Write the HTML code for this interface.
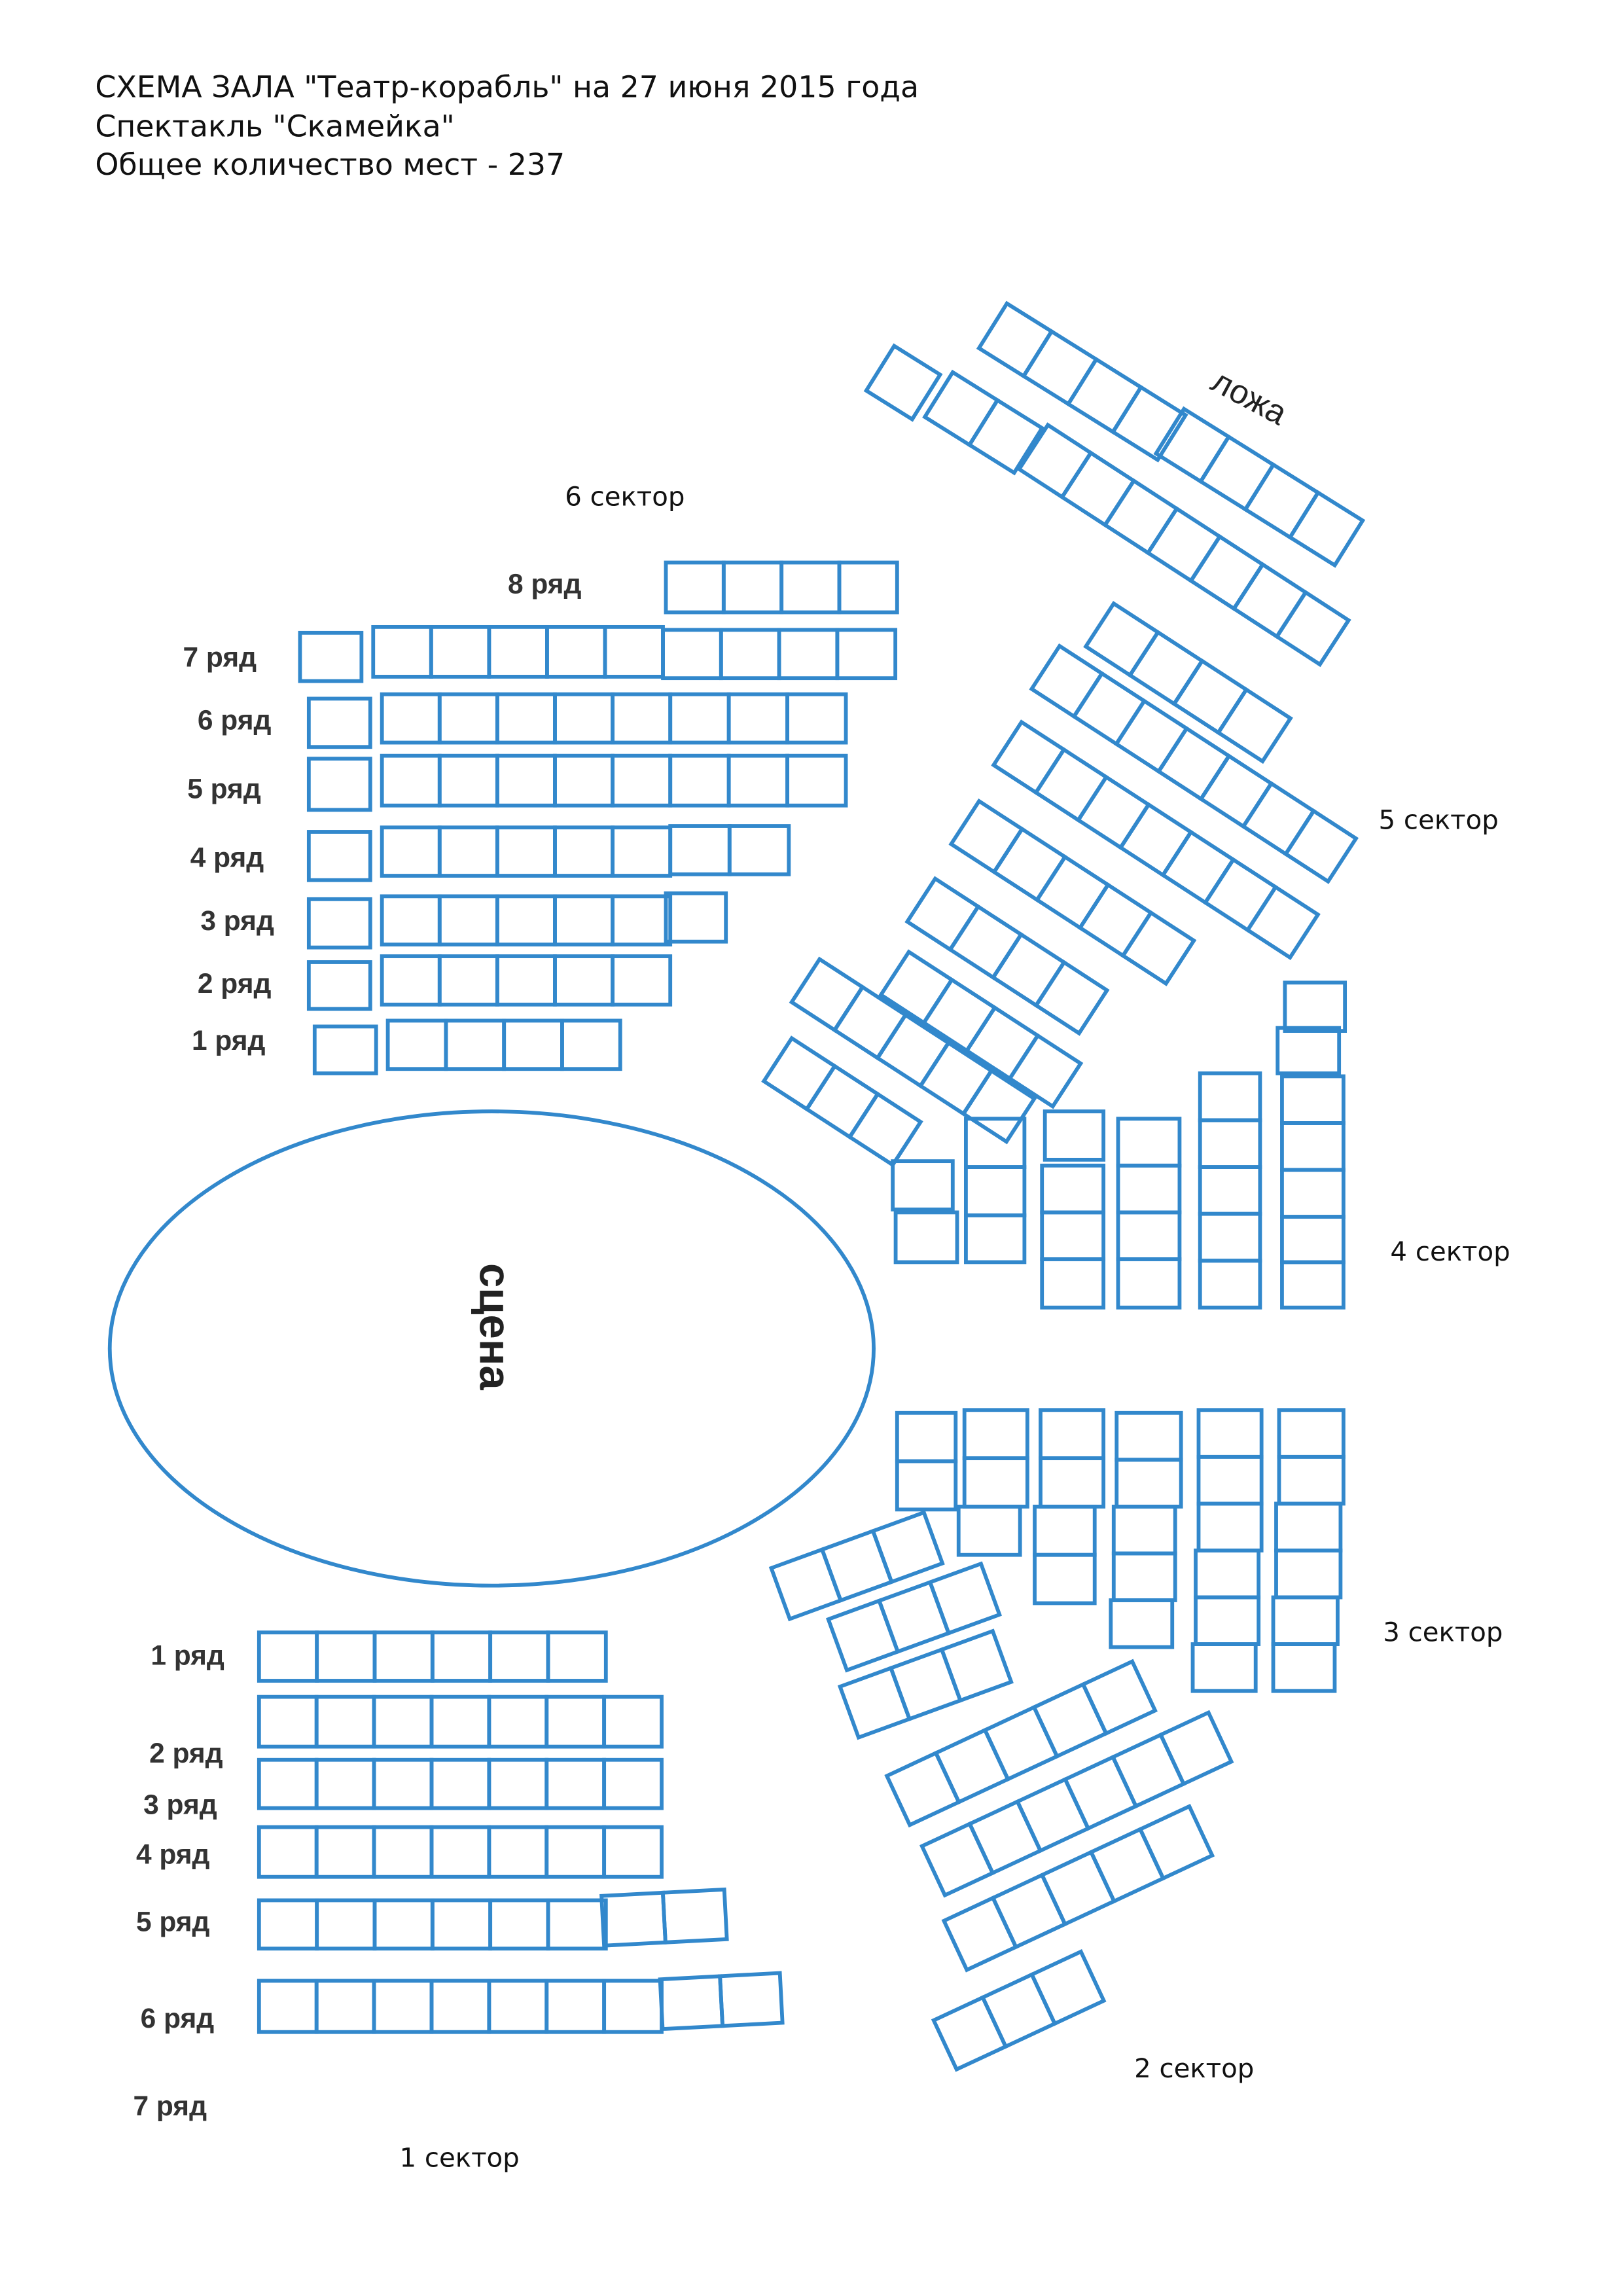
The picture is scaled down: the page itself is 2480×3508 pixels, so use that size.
<!DOCTYPE html>
<html><head><meta charset="utf-8"><style>
html,body{margin:0;padding:0;background:#fff}
svg{display:block}
.s rect{fill:none;stroke:#3288cc;stroke-width:2.6}
.t{font-family:"DejaVu Sans",sans-serif;fill:#111}
.r{font-family:"Liberation Sans",sans-serif;fill:#333;font-size:19px;font-weight:bold}
</style></head><body>
<svg width="2480" height="3508" viewBox="0 0 1109 1568" xmlns="http://www.w3.org/2000/svg">
<text class="t" x="65" y="66" font-size="20.5">СХЕМА ЗАЛА "Театр-корабль" на 27 июня 2015 года</text>
<text class="t" x="65" y="93" font-size="20.5">Спектакль "Скамейка"</text>
<text class="t" x="65" y="119" font-size="20.5">Общее количество мест - 237</text>

<text class="t" x="386" y="345" font-size="18">6 сектор</text>
<text class="t" x="942" y="566" font-size="18">5 сектор</text>
<text class="t" x="950" y="861" font-size="18">4 сектор</text>
<text class="t" x="945" y="1121" font-size="18">3 сектор</text>
<text class="t" x="775" y="1419" font-size="18">2 сектор</text>
<text class="t" x="273" y="1480" font-size="18">1 сектор</text>

<g class="r">
<text x="347" y="405">8 ряд</text>
<text x="125" y="455">7 ряд</text>
<text x="135" y="498">6 ряд</text>
<text x="128" y="545">5 ряд</text>
<text x="130" y="592">4 ряд</text>
<text x="137" y="635">3 ряд</text>
<text x="135" y="678">2 ряд</text>
<text x="131" y="717">1 ряд</text>
<text x="103" y="1137">1 ряд</text>
<text x="102" y="1204">2 ряд</text>
<text x="98" y="1239">3 ряд</text>
<text x="93" y="1273">4 ряд</text>
<text x="93" y="1319">5 ряд</text>
<text x="96" y="1385">6 ряд</text>
<text x="91" y="1445">7 ряд</text>
</g>
<text transform="translate(826,265) rotate(28)" font-family="Liberation Sans,sans-serif" font-size="23" fill="#222">ложа</text>

<ellipse cx="336" cy="921" rx="261" ry="162" fill="none" stroke="#3288cc" stroke-width="2.6"/>
<text transform="translate(328,906) rotate(90)" text-anchor="middle" font-family="Liberation Sans,sans-serif" font-size="30" font-weight="bold" fill="#222">сцена</text>

<g class="s">
<!-- sector 6 -->
<rect x="455" y="384" width="39.5" height="34"/><rect x="494.5" y="384" width="39.5" height="34"/><rect x="534" y="384" width="39.5" height="34"/><rect x="573.5" y="384" width="39.5" height="34"/>
<rect x="205" y="432" width="42" height="33"/>
<rect x="255" y="428" width="39.6" height="34"/><rect x="294.6" y="428" width="39.6" height="34"/><rect x="334.2" y="428" width="39.6" height="34"/><rect x="373.8" y="428" width="39.6" height="34"/><rect x="413.4" y="428" width="39.6" height="34"/>
<rect x="453" y="430" width="39.7" height="33"/><rect x="492.7" y="430" width="39.7" height="33"/><rect x="532.4" y="430" width="39.7" height="33"/><rect x="572.1" y="430" width="39.7" height="33"/>
<rect x="211" y="477" width="42" height="33"/>
<rect x="261" y="474" width="39.4" height="33"/><rect x="300.4" y="474" width="39.4" height="33"/><rect x="339.8" y="474" width="39.4" height="33"/><rect x="379.2" y="474" width="39.4" height="33"/><rect x="418.6" y="474" width="39.4" height="33"/>
<rect x="458" y="474" width="40" height="33"/><rect x="498" y="474" width="40" height="33"/><rect x="538" y="474" width="40" height="33"/>
<rect x="211" y="518" width="42" height="35"/>
<rect x="261" y="516" width="39.4" height="34"/><rect x="300.4" y="516" width="39.4" height="34"/><rect x="339.8" y="516" width="39.4" height="34"/><rect x="379.2" y="516" width="39.4" height="34"/><rect x="418.6" y="516" width="39.4" height="34"/>
<rect x="458" y="516" width="40" height="34"/><rect x="498" y="516" width="40" height="34"/><rect x="538" y="516" width="40" height="34"/>
<rect x="211" y="568" width="42" height="33"/>
<rect x="261" y="565" width="39.4" height="33"/><rect x="300.4" y="565" width="39.4" height="33"/><rect x="339.8" y="565" width="39.4" height="33"/><rect x="379.2" y="565" width="39.4" height="33"/><rect x="418.6" y="565" width="39.4" height="33"/>
<rect x="458" y="564" width="40.5" height="33"/><rect x="498.5" y="564" width="40.5" height="33"/>
<rect x="211" y="614" width="42" height="33"/>
<rect x="261" y="612" width="39.4" height="33"/><rect x="300.4" y="612" width="39.4" height="33"/><rect x="339.8" y="612" width="39.4" height="33"/><rect x="379.2" y="612" width="39.4" height="33"/><rect x="418.6" y="612" width="39.4" height="33"/>
<rect x="455" y="610" width="41" height="33"/>
<rect x="211" y="657" width="42" height="32"/>
<rect x="261" y="653" width="39.4" height="33"/><rect x="300.4" y="653" width="39.4" height="33"/><rect x="339.8" y="653" width="39.4" height="33"/><rect x="379.2" y="653" width="39.4" height="33"/><rect x="418.6" y="653" width="39.4" height="33"/>
<rect x="215" y="701" width="42" height="32"/>
<rect x="265" y="697" width="39.7" height="33"/><rect x="304.7" y="697" width="39.7" height="33"/><rect x="344.4" y="697" width="39.7" height="33"/><rect x="384.1" y="697" width="39.7" height="33"/>

<!-- sector 1 -->
<g transform="translate(177,1115)"><rect x="0" width="39.5" height="33"/><rect x="39.5" width="39.5" height="33"/><rect x="79" width="39.5" height="33"/><rect x="118.5" width="39.5" height="33"/><rect x="158" width="39.5" height="33"/><rect x="197.5" width="39.5" height="33"/></g>
<g transform="translate(177,1159)"><rect x="0" width="39.3" height="34"/><rect x="39.3" width="39.3" height="34"/><rect x="78.6" width="39.3" height="34"/><rect x="117.9" width="39.3" height="34"/><rect x="157.2" width="39.3" height="34"/><rect x="196.5" width="39.3" height="34"/><rect x="235.8" width="39.3" height="34"/></g>
<g transform="translate(177,1202)"><rect x="0" width="39.3" height="33"/><rect x="39.3" width="39.3" height="33"/><rect x="78.6" width="39.3" height="33"/><rect x="117.9" width="39.3" height="33"/><rect x="157.2" width="39.3" height="33"/><rect x="196.5" width="39.3" height="33"/><rect x="235.8" width="39.3" height="33"/></g>
<g transform="translate(177,1248)"><rect x="0" width="39.3" height="34"/><rect x="39.3" width="39.3" height="34"/><rect x="78.6" width="39.3" height="34"/><rect x="117.9" width="39.3" height="34"/><rect x="157.2" width="39.3" height="34"/><rect x="196.5" width="39.3" height="34"/><rect x="235.8" width="39.3" height="34"/></g>
<g transform="translate(177,1298)"><rect x="0" width="39.5" height="33"/><rect x="39.5" width="39.5" height="33"/><rect x="79" width="39.5" height="33"/><rect x="118.5" width="39.5" height="33"/><rect x="158" width="39.5" height="33"/><rect x="197.5" width="39.5" height="33"/></g>
<g transform="translate(411,1295) rotate(-3)"><rect x="0" width="42" height="34"/><rect x="42" width="42" height="34"/></g>
<g transform="translate(177,1353)"><rect x="0" width="39.3" height="35"/><rect x="39.3" width="39.3" height="35"/><rect x="78.6" width="39.3" height="35"/><rect x="117.9" width="39.3" height="35"/><rect x="157.2" width="39.3" height="35"/><rect x="196.5" width="39.3" height="35"/><rect x="235.8" width="39.3" height="35"/></g>
<g transform="translate(451,1352) rotate(-3)"><rect x="0" width="41" height="34"/><rect x="41" width="41" height="34"/></g>

<!-- sector 2 -->
<g transform="translate(527,1071) rotate(-20)"><rect x="0" width="37" height="37"/><rect x="37" width="37" height="37"/><rect x="74" width="37" height="37"/></g>
<g transform="translate(566,1106) rotate(-20)"><rect x="0" width="37" height="37"/><rect x="37" width="37" height="37"/><rect x="74" width="37" height="37"/></g>
<g transform="translate(574,1152) rotate(-20)"><rect x="0" width="37" height="37"/><rect x="37" width="37" height="37"/><rect x="74" width="37" height="37"/></g>
<g transform="translate(606,1213) rotate(-25)"><rect x="0" width="37" height="37"/><rect x="37" width="37" height="37"/><rect x="74" width="37" height="37"/><rect x="111" width="37" height="37"/><rect x="148" width="37" height="37"/></g>
<g transform="translate(630,1261) rotate(-25)"><rect x="0" width="36" height="37"/><rect x="36" width="36" height="37"/><rect x="72" width="36" height="37"/><rect x="108" width="36" height="37"/><rect x="144" width="36" height="37"/><rect x="180" width="36" height="37"/></g>
<g transform="translate(645,1312) rotate(-25)"><rect x="0" width="37" height="37"/><rect x="37" width="37" height="37"/><rect x="74" width="37" height="37"/><rect x="111" width="37" height="37"/><rect x="148" width="37" height="37"/></g>
<g transform="translate(638,1380) rotate(-25)"><rect x="0" width="37" height="37"/><rect x="37" width="37" height="37"/><rect x="74" width="37" height="37"/></g>

<!-- sector 3 -->
<g transform="translate(613,965)"><rect y="0" width="40" height="33"/><rect y="33" width="40" height="33"/></g>
<g transform="translate(659,963)"><rect y="0" width="43" height="33"/><rect y="33" width="43" height="33"/></g>
<rect x="655" y="1029" width="42" height="33"/>
<g transform="translate(711,963)"><rect y="0" width="43" height="33"/><rect y="33" width="43" height="33"/><rect y="66" width="41" height="33" x="-4"/><rect y="99" width="41" height="33" x="-4"/></g>
<g transform="translate(763,965)"><rect y="0" width="44" height="32"/><rect y="32" width="44" height="32"/><rect y="64" width="42" height="32" x="-2"/><rect y="96" width="42" height="32" x="-2"/><rect y="128" width="42" height="32" x="-4"/></g>
<g transform="translate(819,963)"><rect y="0" width="43" height="32"/><rect y="32" width="43" height="32"/><rect y="64" width="43" height="32"/><rect y="96" width="43" height="32" x="-2"/><rect y="128" width="43" height="32" x="-2"/><rect y="160" width="43" height="32" x="-4"/></g>
<g transform="translate(874,963)"><rect y="0" width="44" height="32"/><rect y="32" width="44" height="32"/><rect y="64" width="44" height="32" x="-2"/><rect y="96" width="44" height="32" x="-2"/><rect y="128" width="44" height="32" x="-4"/><rect y="160" width="42" height="32" x="-4"/></g>

<!-- sector 4 -->
<rect x="610" y="793" width="41" height="33"/><rect x="612" y="828" width="42" height="34"/>
<g transform="translate(660,764)"><rect y="0" width="40" height="33"/><rect y="33" width="40" height="33"/><rect y="66" width="40" height="32"/></g>
<rect x="714" y="759" width="40" height="33"/>
<g transform="translate(712,796)"><rect y="0" width="42" height="32"/><rect y="32" width="42" height="32"/><rect y="64" width="42" height="33"/></g>
<g transform="translate(764,764)"><rect y="0" width="42" height="32"/><rect y="32" width="42" height="32"/><rect y="64" width="42" height="32"/><rect y="96" width="42" height="33"/></g>
<g transform="translate(820,733)"><rect y="0" width="41" height="32"/><rect y="32" width="41" height="32"/><rect y="64" width="41" height="32"/><rect y="96" width="41" height="32"/><rect y="128" width="41" height="32"/></g>
<rect x="878" y="671" width="41" height="33"/><rect x="873" y="702" width="42" height="31"/>
<g transform="translate(876,735)"><rect y="0" width="42" height="32"/><rect y="32" width="42" height="32"/><rect y="64" width="42" height="32"/><rect y="96" width="42" height="31"/><rect y="127" width="42" height="31"/></g>

<!-- ложа -->
<g transform="translate(688,207) rotate(32)"><rect x="0" width="36" height="36"/><rect x="36" width="36" height="36"/><rect x="72" width="36" height="36"/><rect x="108" width="36" height="36"/></g>
<g transform="translate(809,279) rotate(32)"><rect x="0" width="36" height="36"/><rect x="36" width="36" height="36"/><rect x="72" width="36" height="36"/><rect x="108" width="36" height="36"/></g>
<g transform="translate(611,236) rotate(32)"><rect x="0" width="37" height="36"/></g>
<g transform="translate(651,254) rotate(32)"><rect x="0" width="36" height="36"/><rect x="36" width="36" height="36"/></g>
<g transform="translate(716,290) rotate(33)"><rect x="0" width="35" height="36"/><rect x="35" width="35" height="36"/><rect x="70" width="35" height="36"/><rect x="105" width="35" height="36"/><rect x="140" width="35" height="36"/><rect x="175" width="35" height="36"/><rect x="210" width="35" height="36"/></g>

<!-- sector 5 -->
<g transform="translate(761,412) rotate(33)"><rect x="0" width="36" height="35"/><rect x="36" width="36" height="35"/><rect x="72" width="36" height="35"/><rect x="108" width="36" height="35"/></g>
<g transform="translate(724,441) rotate(33)"><rect x="0" width="34.5" height="35"/><rect x="34.5" width="34.5" height="35"/><rect x="69" width="34.5" height="35"/><rect x="103.5" width="34.5" height="35"/><rect x="138" width="34.5" height="35"/><rect x="172.5" width="34.5" height="35"/><rect x="207" width="34.5" height="35"/></g>
<g transform="translate(698,493) rotate(33)"><rect x="0" width="34.5" height="35"/><rect x="34.5" width="34.5" height="35"/><rect x="69" width="34.5" height="35"/><rect x="103.5" width="34.5" height="35"/><rect x="138" width="34.5" height="35"/><rect x="172.5" width="34.5" height="35"/><rect x="207" width="34.5" height="35"/></g>
<g transform="translate(669,547) rotate(33)"><rect x="0" width="35" height="35"/><rect x="35" width="35" height="35"/><rect x="70" width="35" height="35"/><rect x="105" width="35" height="35"/><rect x="140" width="35" height="35"/></g>
<g transform="translate(639,600) rotate(33)"><rect x="0" width="35" height="35"/><rect x="35" width="35" height="35"/><rect x="70" width="35" height="35"/><rect x="105" width="35" height="35"/></g>
<g transform="translate(560,655) rotate(33)"><rect x="0" width="35" height="35"/><rect x="35" width="35" height="35"/><rect x="70" width="35" height="35"/><rect x="105" width="35" height="35"/><rect x="140" width="35" height="35"/></g>
<g transform="translate(621,650) rotate(33)"><rect x="0" width="35" height="35"/><rect x="35" width="35" height="35"/><rect x="70" width="35" height="35"/><rect x="105" width="35" height="35"/></g>
<g transform="translate(541,709) rotate(33)"><rect x="0" width="35" height="35"/><rect x="35" width="35" height="35"/><rect x="70" width="35" height="35"/></g>
</g>
</svg>
</body></html>
